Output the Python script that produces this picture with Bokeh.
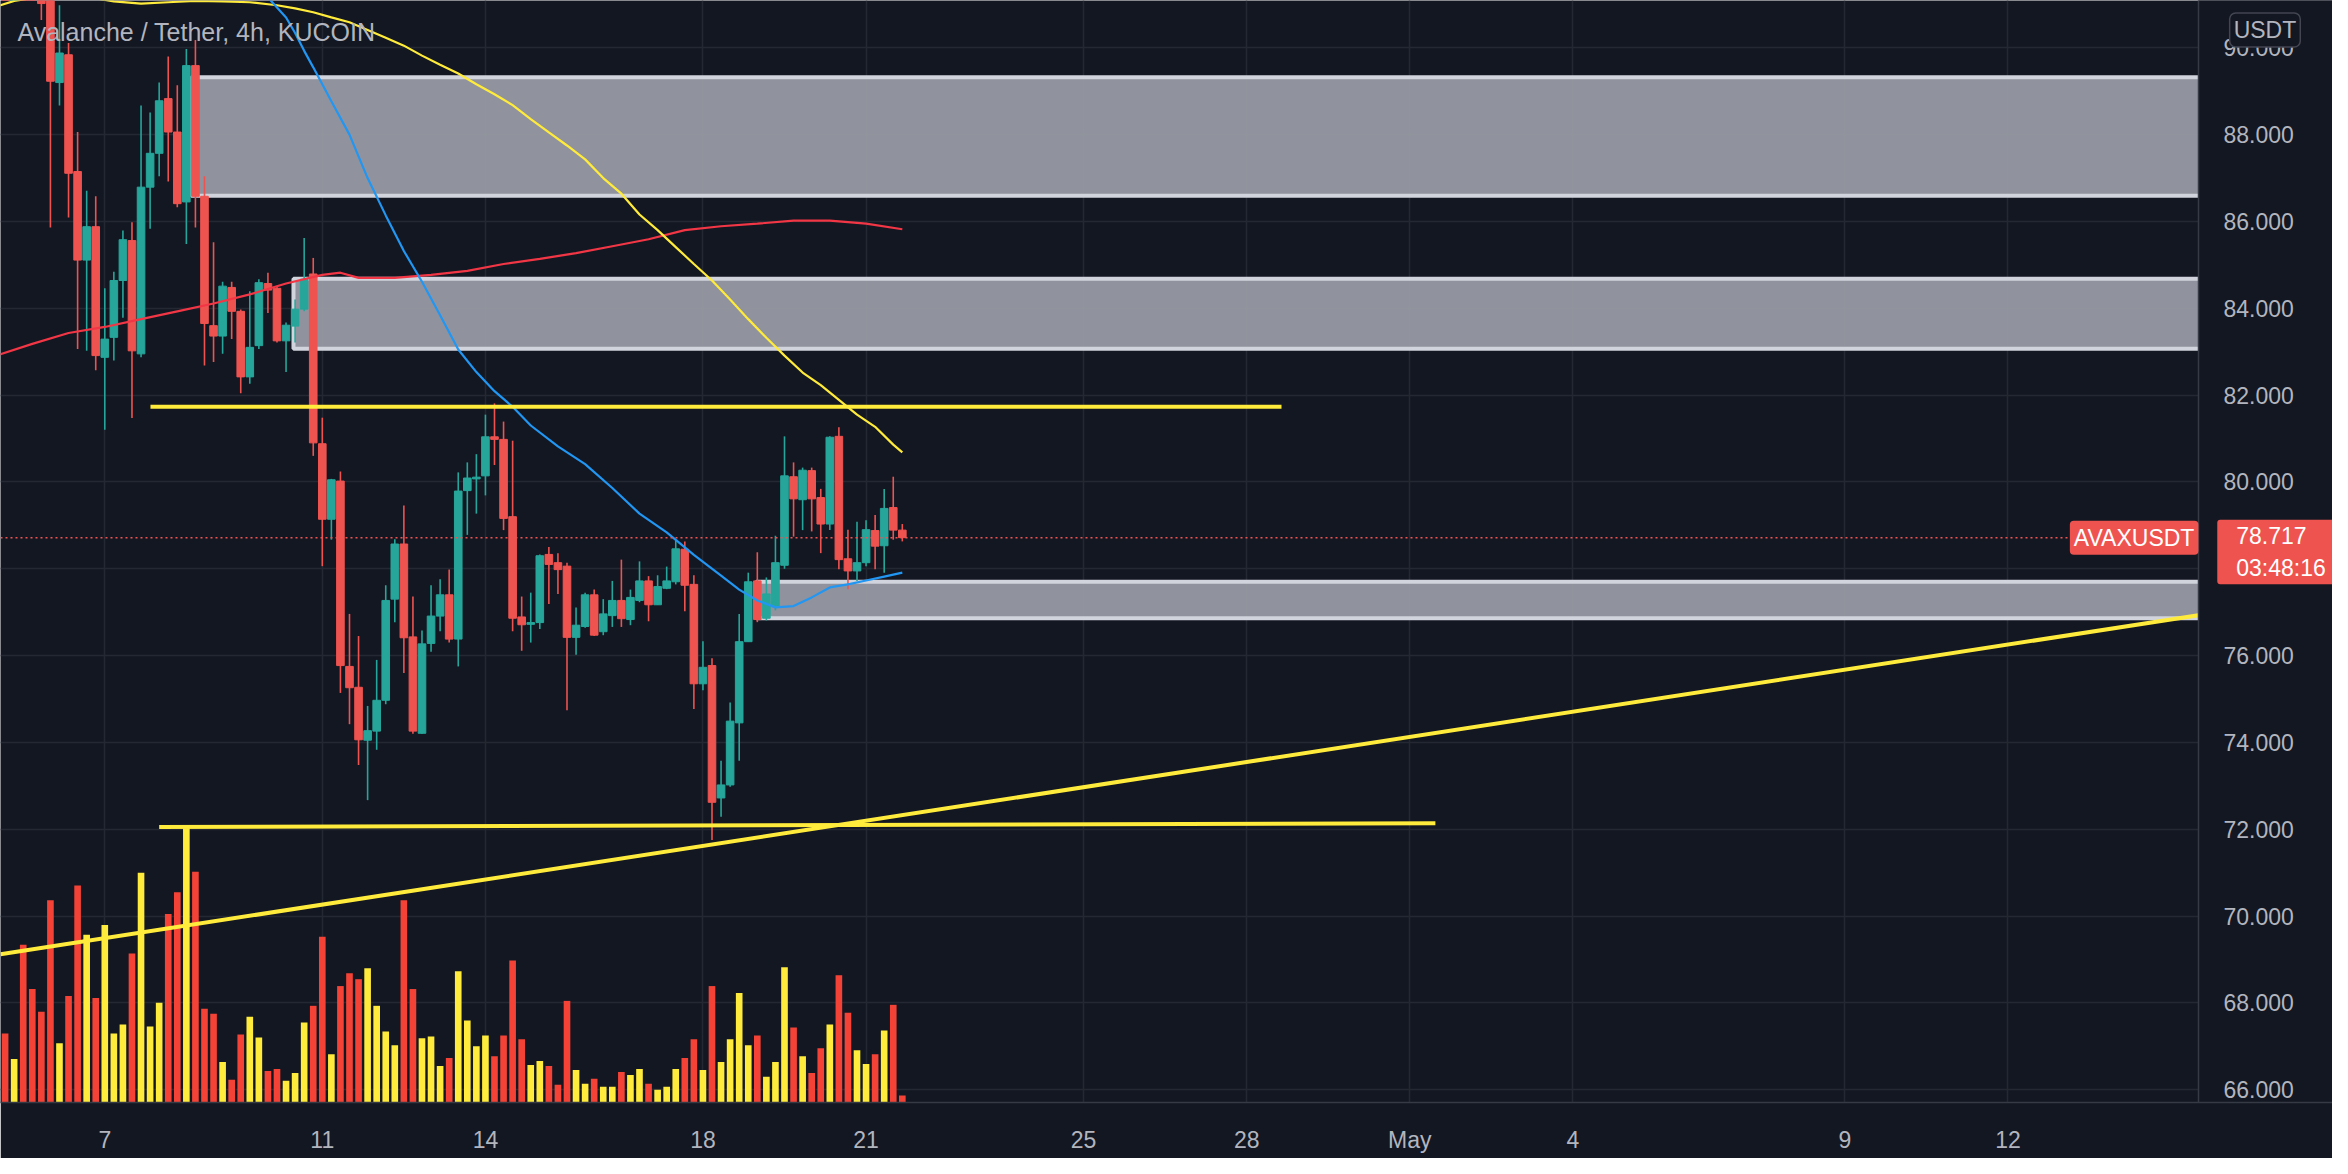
import numpy as np
from bokeh.plotting import figure
from bokeh.models import Range1d, FixedTicker, PrintfTickFormatter, Label
from bokeh.embed import file_html
from bokeh.resources import INLINE

# ---------------- data (AVAX/USDT, 4h, KuCoin, Apr 2022) ----------------
# x unit: day of April (31 = May 1); first candle Apr 5 04:00, one candle per 4h
first_candle_day = 5 + 4 / 24
candle_step_day = 4 / 24

opens = [92.4, 92.1, 92.5, 91.9, 91.6, 91.3, 89.2, 89.84, 87.15, 85.11,
         85.88, 82.87, 83.33, 84.64, 85.56, 82.95, 86.79, 87.57, 88.83, 88.06,
         86.45, 89.59, 86.58, 83.6, 83.36, 84.48, 83.93, 82.42, 83.14, 84.57,
         84.46, 83.25, 83.59, 83.98, 84.79, 80.88, 79.14, 80.02, 75.75, 75.27,
         74.05, 74.26, 74.97, 77.3, 78.57, 76.43, 74.21, 76.28, 76.91, 77.4,
         76.38, 79.8, 80.07, 80.14, 81.04, 80.98, 79.2, 76.89, 76.72, 76.76,
         78.33, 78.14, 78.06, 76.42, 76.67, 77.4, 76.55, 76.92, 77.27, 76.83,
         77.27, 77.72, 77.17, 77.55, 77.7, 78.45, 77.64, 75.35, 75.77, 72.72,
         73.02, 74.45, 76.32, 77.72, 76.86, 77.15, 78.08, 80.12, 79.59, 80.26,
         79.64, 79.03, 81.05, 78.23, 77.95, 78.14, 78.88, 78.53, 79.41, 78.89]
highs = [92.9, 92.7, 92.8, 92.2, 91.9, 91.6, 90.98, 90.11, 88.06, 86.71,
         86.58, 84.46, 84.84, 85.79, 85.98, 88.67, 88.51, 89.2, 89.8, 89.14,
         89.97, 90.18, 87.04, 85.52, 84.61, 84.61, 83.97, 84.39, 84.67, 84.82,
         84.51, 83.67, 84.2, 85.62, 85.16, 81.48, 80.07, 80.24, 76.96, 76.45,
         74.84, 75.9, 77.62, 78.68, 79.46, 77.36, 76.58, 77.62, 77.76, 77.98,
         80.22, 80.45, 80.64, 81.55, 81.81, 81.39, 80.95, 77.36, 77.45, 78.33,
         78.5, 78.36, 78.14, 77.11, 77.45, 77.52, 77.3, 77.72, 78.21, 77.52,
         78.17, 77.83, 77.85, 78.05, 78.67, 78.63, 77.85, 76.33, 75.94, 73.58,
         74.92, 76.96, 77.91, 78.38, 77.8, 78.76, 81.05, 80.45, 80.33, 80.33,
         79.84, 81.05, 81.26, 78.9, 79.08, 79.12, 79.24, 79.84, 80.12, 79.03]
lows = [92.0, 91.8, 91.7, 91.4, 90.64, 85.86, 88.67, 86.09, 83.06, 83.02,
        82.57, 81.2, 82.8, 83.78, 81.47, 82.87, 85.83, 87.04, 86.92, 86.33,
        85.48, 85.86, 82.68, 82.76, 82.95, 83.29, 82.04, 82.26, 83.06, 83.89,
        83.21, 82.53, 83.21, 83.93, 80.6, 78.06, 78.67, 75.14, 74.42, 73.48,
        72.67, 73.83, 74.88, 76.77, 75.6, 74.2, 74.2, 76.09, 76.56, 76.3,
        75.75, 78.78, 79.27, 79.69, 80.39, 78.89, 76.56, 76.11, 76.3, 76.61,
        77.19, 77.42, 74.74, 76.02, 76.64, 76.45, 76.47, 76.66, 76.66, 76.7,
        77.23, 76.79, 77.17, 77.53, 77.64, 77.02, 74.77, 75.2, 71.75, 72.29,
        72.98, 73.58, 76.32, 76.77, 76.81, 77.04, 78.0, 78.74, 78.89, 78.86,
        78.36, 78.89, 77.99, 77.53, 77.72, 78.06, 77.99, 77.91, 78.67, 78.63]
closes = [92.1, 92.5, 91.9, 91.6, 91.02, 89.23, 89.88, 87.11, 85.11, 85.88,
          82.91, 83.29, 84.64, 85.58, 83.02, 86.79, 87.57, 88.78, 88.06, 86.41,
          89.59, 86.58, 83.65, 83.36, 84.51, 83.93, 82.42, 83.1, 84.59, 84.42,
          83.25, 83.61, 83.98, 84.67, 80.9, 79.14, 80.05, 75.77, 75.26, 74.06,
          74.27, 74.97, 77.27, 78.57, 76.41, 74.26, 76.27, 76.91, 77.4, 76.38,
          79.79, 80.09, 80.11, 81.04, 80.98, 79.16, 76.86, 76.71, 76.76, 78.3,
          78.1, 77.98, 76.42, 76.7, 77.4, 76.47, 76.96, 77.27, 76.85, 77.34,
          77.72, 77.17, 77.59, 77.72, 78.46, 77.62, 75.35, 75.73, 72.62, 73.02,
          74.49, 76.32, 77.7, 76.83, 77.42, 78.14, 80.14, 79.61, 80.27, 79.61,
          79.03, 81.03, 78.21, 77.95, 78.14, 78.9, 78.52, 79.39, 78.89, 78.717]
volume_k = [70, 44, 160, 115, 92, 205, 60, 108, 220, 170,
            106, 180, 70, 79, 151, 233, 77, 101, 191, 213,
            278, 234, 95, 90, 41, 23, 69, 87, 66, 32,
            34, 22, 30, 81, 98, 168, 49, 118, 131, 125,
            136, 98, 72, 58, 205, 115, 65, 67, 37, 45,
            133, 83, 57, 68, 47, 68, 144, 64, 38, 42,
            37, 18, 103, 33, 19, 24, 16, 16, 31, 28,
            34, 19, 13, 16, 34, 45, 64, 33, 118, 41,
            64, 111, 58, 68, 26, 41, 137, 76, 47, 30,
            55, 79, 129, 91, 53, 39, 49, 73, 99, 7]

# moving averages read at candle indices
ma_yellow_idx = [-1, 1, 4, 7, 10, 12, 15, 18, 21, 24, 27, 30, 32, 34, 36, 38, 40, 42, 44, 46,
                 48, 50, 52, 54, 56, 58, 60, 62, 64, 66, 68, 70, 72, 74, 76, 78, 80, 82, 84, 86,
                 88, 90, 92, 94, 96, 98, 99]
ma_yellow_val = [90.95, 91.08, 91.18, 91.2, 91.14, 91.07, 91.02, 91.05, 91.08, 91.07,
                 91.05, 90.98, 90.91, 90.82, 90.70, 90.59, 90.41, 90.23, 90.05, 89.82,
                 89.61, 89.41, 89.16, 88.93, 88.68, 88.36, 88.05, 87.75, 87.43, 87.0,
                 86.64, 86.16, 85.80, 85.41, 85.02, 84.64, 84.2, 83.75, 83.32, 82.91,
                 82.52, 82.23, 81.89, 81.55, 81.27, 80.86, 80.68]
ma_blue_idx = [27, 29, 30, 31, 32, 33, 34, 36, 38, 40, 42, 44, 46, 48, 50, 52, 54, 56, 58, 61,
               64, 67, 70, 73, 76, 79, 81, 83, 85, 87, 89, 91, 93, 95, 97, 99]
ma_blue_val = [91.9, 91.16, 90.93, 90.70, 90.34, 89.93, 89.55, 88.77, 88.0, 87.0,
               86.14, 85.32, 84.61, 83.84, 83.05, 82.53, 82.09, 81.73, 81.30, 80.82,
               80.41, 79.86, 79.27, 78.84, 78.32, 77.84, 77.52, 77.27, 77.11, 77.14,
               77.34, 77.57, 77.64, 77.73, 77.82, 77.91]
ma_red_idx = [-1, 3, 7, 11, 15, 19, 23, 27, 31, 35, 37, 39, 43, 47, 51, 55, 59, 63, 67, 71,
              75, 79, 83, 87, 91, 95, 99]
ma_red_val = [82.91, 83.18, 83.43, 83.57, 83.75, 83.93, 84.11, 84.32, 84.57, 84.77,
              84.82, 84.70, 84.70, 84.77, 84.86, 85.02, 85.14, 85.27, 85.43, 85.59,
              85.80, 85.89, 85.95, 86.02, 86.02, 85.95, 85.82]

# drawn zones (left day, top price, bottom price) extending to the right
zone_left = [8.59, 10.47, 18.98]
zone_top = [89.32, 84.68, 77.70]
zone_bottom = [86.59, 83.07, 76.86]
zone_right = [47.0, 47.0, 47.0]

# drawn trend lines
hline1_x = [7.84, 28.64]
hline1_y = [81.73, 81.73]
hline2_x = [8.00, 31.47]
hline2_y = [72.05, 72.14]
diag_x = [5.082, 45.502]
diag_y = [69.12, 76.93]

price_ticks = [66, 68, 70, 72, 74, 76, 78, 80, 82, 84, 86, 88, 90]
date_ticks = [7, 11, 14, 18, 21, 25, 28, 31, 34, 39, 42]
date_labels = ["7", "11", "14", "18", "21", "25", "28", "May", "4", "9", "12"]

title_text = "Avalanche / Tether, 4h, KUCOIN"
symbol = "AVAXUSDT"
countdown = "03:48:16"
currency = "USDT"

# ---------------- styling / layout ----------------
FONT = "Liberation Sans"
BG = "#131722"
TXT = "#b2b5be"
GRID = "#242833"
UP = "#26a69a"
DN = "#ef5350"
VOL_UP = "#ffeb3b"
VOL_DN = "#f44336"

X0, X_SEP, X1 = 5.082, 45.502, 47.968   # chart left, price-scale separator, right edge
Y0, Y1 = 65.705, 91.09

n = len(opens)
o = np.array(opens); h = np.array(highs); l = np.array(lows); c = np.array(closes)
xs = first_candle_day + np.arange(n) * candle_step_day
up = c >= o
cndl_col = [UP if u else DN for u in up]
vol_col = [VOL_UP if u else VOL_DN for u in up]

def idx_to_day(idx):
    return [first_candle_day + i * candle_step_day for i in idx]

p = figure(width=2332, height=1158,
           x_range=Range1d(X0, X1), y_range=Range1d(Y0, Y1),
           output_backend="svg", toolbar_location=None, y_axis_location="right",
           min_border_left=0, min_border_top=0, min_border_right=0, min_border_bottom=56,
           background_fill_color=BG, border_fill_color=BG, outline_line_color=None)
p.extra_y_ranges = {"vol": Range1d(0, 1117)}

# axes
yt = FixedTicker(ticks=price_ticks)
xt = FixedTicker(ticks=date_ticks)
p.yaxis.ticker = yt
p.yaxis.formatter = PrintfTickFormatter(format="%.3f")
p.yaxis.fixed_location = X_SEP
p.xaxis.ticker = xt
p.xaxis.major_label_overrides = {d: s for d, s in zip(date_ticks, date_labels)}
for ax in (p.xaxis[0], p.yaxis[0]):
    ax.major_tick_line_color = None
    ax.minor_tick_line_color = None
    ax.axis_line_color = "#363a45"
    ax.axis_line_width = 1.5
    ax.major_label_text_color = TXT
    ax.major_label_text_font = FONT
    ax.major_label_text_font_size = "23px"
p.yaxis.major_label_standoff = 19
p.xaxis.major_label_standoff = 18
p.xgrid.ticker = xt
p.ygrid.ticker = yt
p.xgrid.grid_line_color = GRID
p.ygrid.grid_line_color = GRID
p.xgrid.grid_line_width = 1.5
p.ygrid.grid_line_width = 1.5

# volume
p.vbar(x=xs, width=0.122, top=volume_k, bottom=0, y_range_name="vol",
       fill_color=vol_col, line_color=None)

# zones
p.quad(left=zone_left, right=zone_right, top=zone_top, bottom=zone_bottom,
       fill_color="#9598a1", fill_alpha=0.97, line_color="#d1d4dc", line_width=4)

# candles
p.segment(x0=xs, y0=l, x1=xs, y1=h, line_color=cndl_col, line_width=1.6)
p.vbar(x=xs, width=0.14, top=np.maximum(o, c), bottom=np.minimum(o, c),
       fill_color=cndl_col, line_color=cndl_col, line_width=1)

# moving averages
p.line(idx_to_day(ma_red_idx), ma_red_val, line_color="#f23645", line_width=2.2)
p.line(idx_to_day(ma_yellow_idx), ma_yellow_val, line_color="#ffeb3b", line_width=2.2)
p.line(idx_to_day(ma_blue_idx), ma_blue_val, line_color="#2196f3", line_width=2.2)

# trend lines
p.line(hline1_x, hline1_y, line_color="#ffeb3b", line_width=4)
p.line(hline2_x, hline2_y, line_color="#ffeb3b", line_width=4)
p.line(diag_x, diag_y, line_color="#ffeb3b", line_width=4)

# last price line
last = closes[-1]
p.line([X0, X_SEP], [last, last], line_color=DN, line_dash="2 3", line_width=1.5)

# price-scale panel background (covers anything right of the separator)
p.quad(left=[X_SEP], right=[X1 + 1], bottom=[Y0 - 1], top=[Y1 + 1],
       fill_color=BG, line_color=None)

# title
p.add_layout(Label(x=5.393, y=90.364, text=title_text, text_align="left",
                   text_baseline="middle", text_font=FONT, text_font_size="25px",
                   text_color=TXT))

# symbol tag
p.add_layout(Label(x=44.32, y=last, text=symbol, text_align="center",
                   text_baseline="middle", text_font=FONT, text_font_size="23px",
                   text_color="#ffffff", background_fill_color=DN,
                   padding=4, border_radius=4))

# price / countdown tag on the price scale
p.add_layout(Label(x=45.849, y=last - 0.33, text=f"{last:.3f}\n{countdown}",
                   text_align="left", text_baseline="middle", text_font=FONT,
                   text_font_size="23px", text_color="#ffffff", text_line_height=1.25,
                   background_fill_color=DN,
                   padding=dict(left=19, right=16, top=3, bottom=3), border_radius=3))

# currency tag
p.add_layout(Label(x=46.726, y=90.41, text=currency, text_align="center",
                   text_baseline="middle", text_font=FONT, text_font_size="23px",
                   text_color=TXT, background_fill_color=BG,
                   border_line_color="#434651", border_line_width=1.5,
                   padding=4, border_radius=6))

open("out.html", "w").write(file_html(p, INLINE))
